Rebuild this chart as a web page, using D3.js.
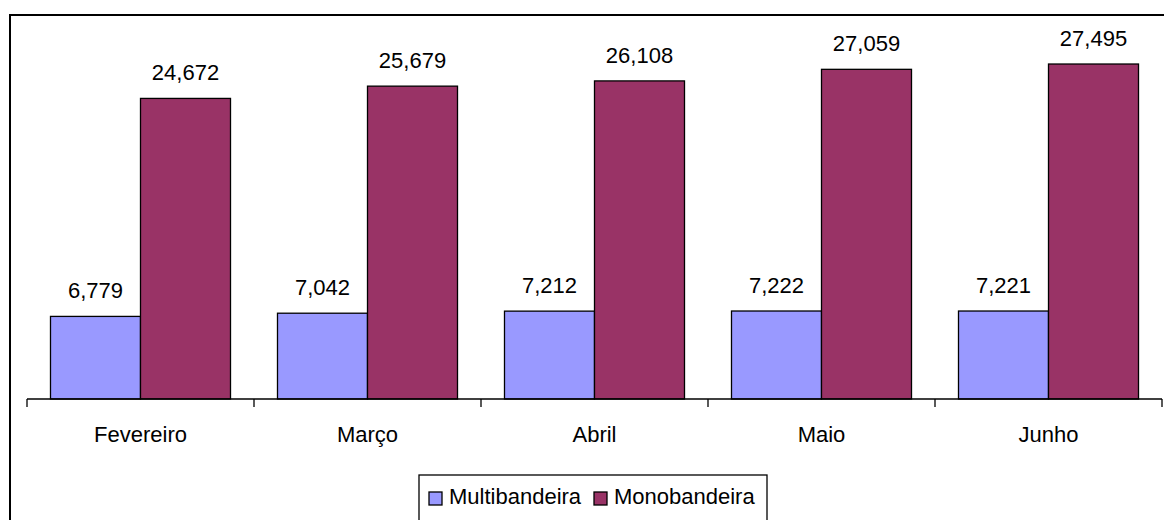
<!DOCTYPE html>
<html>
<head>
<meta charset="utf-8">
<script src="https://cdn.jsdelivr.net/npm/d3@7"></script>
<style>
  body { margin: 0; background: #fff; }
  svg text { font-family: "Liberation Sans", Arial, sans-serif; fill: #000; }
</style>
</head>
<body>
<div id="chart"></div>
<script>
// months on the x axis
const months = ['Fevereiro', 'Março', 'Abril', 'Maio', 'Junho'];
// series names
const seriesNames = ['Multibandeira', 'Monobandeira'];
// values per series
const multibandeira = [6779, 7042, 7212, 7222, 7221];
const monobandeira = [24672, 25679, 26108, 27059, 27495];
const seriesColors = ['#9999FF', '#993366'];

const width = 1164;
const height = 520;

// build rows from the arrays
const data = months.map(function (m, i) {
    return {month: m, Multibandeira: multibandeira[i], Monobandeira: monobandeira[i]};
});

const svg = d3.select('#chart')
    .append('svg')
    .attr('width', width)
    .attr('height', height);

// outer frame of the chart
svg.append('rect')
    .attr('x', 10)
    .attr('y', 15)
    .attr('width', width + 20)
    .attr('height', height + 20)
    .attr('fill', 'none')
    .attr('stroke', '#000')
    .attr('stroke-width', 2);

// x scale for months
const xScale = d3.scaleBand()
    .domain(months)
    .range([27, 1162])
    .paddingInner(0.207)
    .paddingOuter(0.1035);

// inner scale for the two series
const xSub = d3.scaleBand()
    .domain(seriesNames)
    .range([0, xScale.bandwidth()]);

// y scale
const yScale = d3.scaleLinear()
    .domain([0, 30000])
    .range([399, 33.5]);

// draw the bars
const groups = svg.append('g')
    .selectAll('g')
    .data(data)
    .enter()
    .append('g')
    .attr('transform', function (d) { return `translate(${xScale(d.month)},0)`; });

groups.selectAll('rect')
    .data(function (d) { return seriesNames.map(function (k) { return {key: k, value: d[k]}; }); })
    .enter()
    .append('rect')
    .attr('x', function (d) { return xSub(d.key); })
    .attr('y', function (d) { return yScale(d.value); })
    .attr('width', xSub.bandwidth())
    .attr('height', function (d) { return yScale(0) - yScale(d.value); })
    .attr('fill', function (d, i) { return seriesColors[i]; })
    .attr('stroke', '#000')
    .attr('stroke-width', 1.3);

// value labels above the bars
groups.selectAll('text')
    .data(function (d) { return seriesNames.map(function (k) { return {key: k, value: d[k]}; }); })
    .enter()
    .append('text')
    .attr('x', function (d) { return xSub(d.key) + xSub.bandwidth() / 2; })
    .attr('y', function (d) { return yScale(d.value) - 18; })
    .attr('text-anchor', 'middle')
    .style('font-size', '22px')
    .text(function (d) { return d3.format(',')(d.value); });

// x axis with ticks between the months
const axisG = svg.append('g')
    .attr('transform', `translate(0,${yScale(0)})`);

axisG.append('line')
    .attr('x1', 27)
    .attr('x2', 1162)
    .attr('stroke', '#000')
    .attr('stroke-width', 1.3);

axisG.selectAll('.tick')
    .data(d3.range(months.length + 1))
    .enter()
    .append('line')
    .attr('class', 'tick')
    .attr('x1', function (i) { return 27 + i * (1162 - 27) / months.length; })
    .attr('x2', function (i) { return 27 + i * (1162 - 27) / months.length; })
    .attr('y1', 0)
    .attr('y2', 8)
    .attr('stroke', '#000')
    .attr('stroke-width', 1.3);

axisG.selectAll('.label')
    .data(months)
    .enter()
    .append('text')
    .attr('class', 'label')
    .attr('x', function (d) { return xScale(d) + xScale.bandwidth() / 2; })
    .attr('y', 43)
    .attr('text-anchor', 'middle')
    .style('font-size', '22px')
    .text(function (d) { return d; });

// legend box
const legend = svg.append('g')
    .attr('transform', 'translate(419,475)');

legend.append('rect')
    .attr('width', 348)
    .attr('height', 46)
    .attr('fill', '#fff')
    .attr('stroke', '#000')
    .attr('stroke-width', 1.3);

const legendX = [10, 175];
const items = legend.selectAll('.item')
    .data(seriesNames)
    .enter()
    .append('g')
    .attr('class', 'item')
    .attr('transform', function (d, i) { return `translate(${legendX[i]},17)`; });

items.append('rect')
    .attr('width', 13)
    .attr('height', 13)
    .attr('fill', function (d, i) { return seriesColors[i]; })
    .attr('stroke', '#000')
    .attr('stroke-width', 1.3);

items.append('text')
    .attr('x', 20)
    .attr('y', 12)
    .style('font-size', '22px')
    .text(function (d) { return d; });
</script>
</body>
</html>
